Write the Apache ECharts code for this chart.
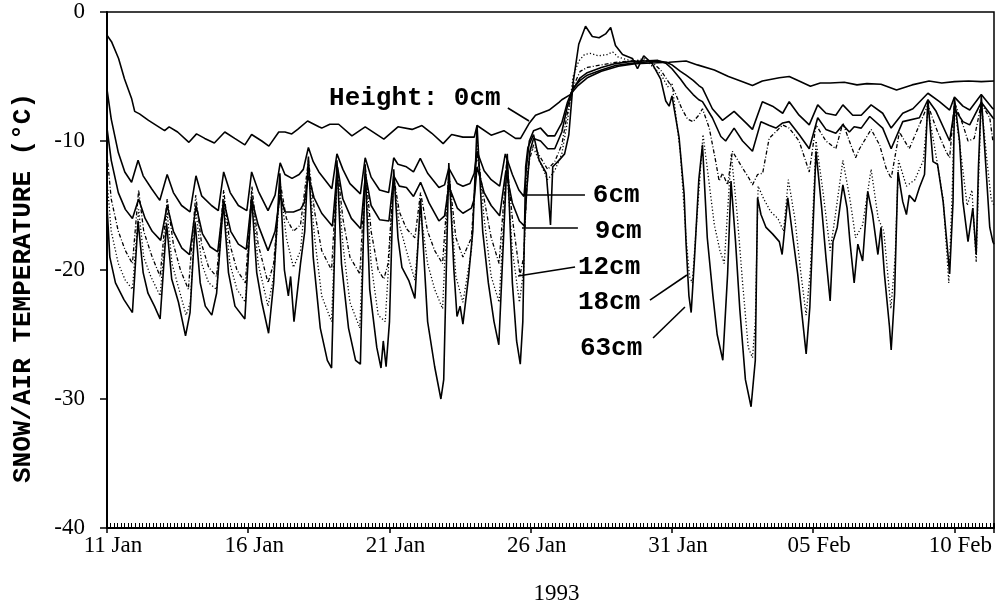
<!DOCTYPE html>
<html><head><meta charset="utf-8">
<script src="https://cdn.jsdelivr.net/npm/echarts@6/dist/echarts.min.js"></script>
<style>html,body{margin:0;padding:0;background:#fff}#c{width:1007px;height:612px}</style>
</head><body><div id="c"></div>
<script>
// x = days since 11 Jan 1993 00:00, y = temperature (°C)
const xTickLabels = ["11 Jan","16 Jan","21 Jan","26 Jan","31 Jan","05 Feb","10 Feb"];
const yearLabel = "1993";
const yTitle = "SNOW/AIR TEMPERATURE (°C)";

const h0 = [[0,-1.8],[0.16,-2.3],[0.41,-3.6],[0.62,-5.2],[0.87,-6.7],[0.98,-7.7],[1.15,-7.9],[1.47,-8.4],[1.83,-8.9],[2.04,-9.2],[2.2,-8.9],[2.5,-9.3],[2.9,-10.1],[3.17,-9.45],[3.46,-9.8],[3.8,-10.15],[4.17,-9.3],[4.52,-9.8],[4.88,-10.3],[5.12,-9.5],[5.48,-10.0],[5.73,-10.4],[6.08,-9.3],[6.3,-9.3],[6.54,-9.45],[6.75,-9.1],[7.1,-8.45],[7.5,-8.9],[7.6,-9.0],[7.89,-8.7],[8.2,-8.7],[8.67,-9.6],[9.14,-8.9],[9.8,-9.85],[10.3,-8.9],[10.8,-9.1],[11.15,-8.8],[11.5,-9.4],[11.9,-10.2],[12.2,-9.5],[12.6,-9.7],[13.0,-9.7],[13.1,-8.8],[13.6,-9.55],[14.05,-9.2],[14.46,-9.8],[14.64,-9.8],[14.94,-8.65],[15.17,-8.0],[15.65,-7.6],[16.0,-7.0],[16.1,-6.8],[16.4,-6.4],[16.65,-5.75],[17.0,-5.1],[17.5,-4.6],[18.1,-4.2],[18.7,-4.0],[19.3,-3.95],[19.9,-3.9],[20.5,-3.8],[20.9,-4.1],[21.5,-4.5],[22.0,-5.0],[22.5,-5.4],[22.85,-5.7],[23.2,-5.35],[23.8,-5.1],[24.15,-5.0],[24.5,-5.35],[24.9,-5.75],[25.25,-5.5],[25.6,-5.5],[26.1,-5.45],[26.55,-5.65],[26.9,-5.55],[27.4,-5.6],[27.95,-6.05],[28.5,-5.65],[29.1,-5.35],[29.55,-5.5],[30.0,-5.4],[30.5,-5.35],[30.95,-5.4],[31.4,-5.35]];

const h6 = [[0,-6.0],[0.15,-8.3],[0.4,-10.9],[0.63,-12.4],[0.87,-13.2],[1.1,-11.5],[1.28,-12.7],[1.58,-13.7],[1.87,-14.6],[2.13,-12.6],[2.35,-14.0],[2.64,-15.0],[2.94,-15.5],[3.15,-12.7],[3.35,-14.25],[3.7,-15.0],[3.94,-15.4],[4.13,-12.4],[4.36,-14.0],[4.65,-15.0],[4.95,-15.4],[5.12,-12.4],[5.36,-13.9],[5.7,-15.4],[5.95,-14.2],[6.13,-11.7],[6.3,-12.6],[6.55,-12.9],[6.8,-12.6],[6.95,-12.2],[7.13,-10.5],[7.3,-11.6],[7.5,-12.4],[7.96,-13.7],[8.14,-11.0],[8.35,-12.2],[8.6,-13.3],[8.97,-14.1],[9.14,-11.3],[9.35,-12.8],[9.65,-13.8],[9.97,-14.0],[10.15,-11.3],[10.3,-11.8],[10.6,-12.0],[10.85,-12.4],[11.09,-11.35],[11.35,-12.5],[11.75,-13.6],[11.95,-13.4],[12.1,-12.1],[12.4,-13.3],[12.6,-13.5],[12.85,-13.3],[13.0,-12.5],[13.1,-10.8],[13.35,-12.3],[13.6,-13.0],[13.9,-13.5],[14.1,-11.0],[14.35,-12.6],[14.58,-13.8],[14.76,-14.3],[14.85,-12.0],[14.95,-10.0],[15.1,-9.2],[15.35,-9.0],[15.6,-9.6],[15.85,-9.6],[16.1,-8.6],[16.3,-7.0],[16.5,-5.9],[16.75,-5.3],[17.0,-4.9],[17.5,-4.5],[18.0,-4.15],[18.5,-4.0],[19.0,-3.9],[19.5,-3.8],[19.8,-3.9],[20.0,-4.1],[20.3,-4.6],[20.5,-4.9],[20.75,-5.3],[20.95,-5.7],[21.08,-5.9],[21.43,-7.5],[21.79,-8.4],[22.2,-7.7],[22.62,-8.6],[22.85,-9.1],[23.2,-6.95],[23.56,-7.3],[23.92,-7.85],[24.15,-6.95],[24.5,-8.0],[24.86,-8.75],[25.16,-7.2],[25.45,-7.85],[25.8,-8.0],[26.05,-7.2],[26.4,-8.0],[26.7,-8.0],[27.05,-7.2],[27.46,-7.85],[27.76,-9.0],[28.17,-7.85],[28.53,-7.5],[29.06,-6.3],[29.47,-6.95],[29.83,-7.6],[30.0,-6.6],[30.3,-7.3],[30.54,-7.6],[30.95,-6.4],[31.36,-7.5],[31.4,-7.5]];

const h9 = [[0,-9.0],[0.15,-11.5],[0.4,-14.0],[0.65,-15.3],[0.9,-16.0],[1.12,-14.5],[1.35,-16.0],[1.6,-17.0],[1.9,-17.7],[2.13,-15.0],[2.35,-17.0],[2.65,-18.3],[2.92,-18.8],[3.15,-15.0],[3.38,-17.2],[3.65,-18.2],[3.92,-18.6],[4.13,-14.6],[4.38,-17.0],[4.65,-18.0],[4.93,-18.4],[5.12,-14.5],[5.35,-16.5],[5.7,-18.5],[5.95,-17.0],[6.13,-14.2],[6.3,-15.5],[6.6,-15.5],[6.85,-15.3],[6.98,-14.8],[7.13,-12.7],[7.33,-14.4],[7.6,-15.6],[7.98,-16.6],[8.16,-12.0],[8.35,-14.5],[8.65,-16.0],[8.98,-16.8],[9.15,-12.6],[9.35,-15.0],[9.65,-16.1],[9.98,-16.2],[10.15,-12.7],[10.35,-13.5],[10.6,-13.6],[10.85,-14.3],[11.1,-13.2],[11.4,-14.8],[11.75,-16.2],[11.95,-15.8],[12.1,-13.5],[12.4,-15.2],[12.6,-15.6],[12.9,-15.2],[13.0,-14.5],[13.1,-12.0],[13.35,-14.0],[13.6,-15.0],[13.9,-15.8],[14.12,-12.3],[14.35,-14.8],[14.6,-16.2],[14.78,-16.6],[14.87,-13.5],[14.97,-10.8],[15.1,-9.8],[15.35,-10.0],[15.6,-10.6],[15.85,-10.6],[16.1,-9.3],[16.3,-7.3],[16.5,-6.0],[16.75,-5.1],[17.0,-4.7],[17.5,-4.3],[18.0,-4.0],[18.5,-3.85],[19.0,-3.8],[19.5,-3.75],[19.8,-4.0],[20.0,-4.4],[20.3,-5.2],[20.5,-5.8],[20.75,-6.4],[20.95,-6.8],[21.08,-6.95],[21.43,-8.2],[21.73,-9.65],[21.9,-10.0],[22.2,-9.0],[22.5,-10.0],[22.85,-10.8],[23.15,-8.5],[23.45,-8.8],[23.68,-9.0],[23.92,-8.6],[24.15,-8.5],[24.5,-9.5],[24.86,-10.6],[25.16,-8.2],[25.45,-9.1],[25.8,-9.4],[26.05,-8.75],[26.28,-9.3],[26.45,-8.9],[26.7,-9.0],[27.0,-8.1],[27.46,-9.0],[27.76,-10.6],[28.17,-8.5],[28.76,-8.2],[29.06,-6.8],[29.35,-7.7],[29.83,-10.0],[30.0,-7.5],[30.3,-8.5],[30.54,-8.75],[30.95,-7.0],[31.36,-8.2],[31.4,-8.3]];

const h12 = [[0,-11.0],[0.15,-14.5],[0.4,-17.0],[0.65,-18.5],[0.9,-19.5],[1.12,-13.8],[1.3,-17.0],[1.6,-19.0],[1.88,-20.5],[2.13,-14.5],[2.35,-18.0],[2.6,-20.0],[2.88,-21.5],[3.14,-14.2],[3.35,-18.0],[3.6,-19.8],[3.88,-20.5],[4.13,-13.8],[4.35,-18.0],[4.6,-20.0],[4.9,-21.0],[5.13,-13.5],[5.35,-18.0],[5.7,-21.0],[5.9,-19.5],[6.13,-13.2],[6.35,-16.0],[6.6,-17.0],[6.85,-16.5],[7.13,-11.5],[7.35,-15.5],[7.6,-18.5],[7.95,-20.0],[8.15,-12.0],[8.35,-16.0],[8.6,-19.0],[8.95,-20.3],[9.15,-12.2],[9.35,-17.0],[9.6,-20.0],[9.8,-20.7],[9.95,-19.5],[10.15,-12.8],[10.35,-15.5],[10.6,-16.8],[10.9,-17.5],[11.1,-14.0],[11.35,-17.0],[11.6,-18.5],[11.88,-19.5],[12.1,-12.5],[12.35,-17.5],[12.6,-19.0],[12.9,-17.5],[13.1,-11.0],[13.35,-14.5],[13.6,-17.5],[13.88,-19.5],[14.15,-11.5],[14.35,-16.0],[14.62,-20.4],[14.75,-19.0],[14.85,-14.0],[14.95,-11.5],[15.1,-10.3],[15.35,-11.3],[15.6,-12.2],[15.85,-11.6],[16.1,-10.3],[16.3,-7.8],[16.5,-5.8],[16.75,-4.6],[17.0,-4.3],[17.5,-4.1],[18.0,-3.9],[18.5,-3.8],[19.0,-3.75],[19.3,-3.9],[19.6,-4.5],[19.9,-5.5],[20.1,-6.2],[20.35,-7.5],[20.55,-8.3],[20.75,-8.5],[20.95,-8.0],[21.08,-7.5],[21.32,-9.0],[21.55,-11.6],[21.67,-13.1],[21.79,-12.5],[21.97,-13.4],[22.14,-10.8],[22.5,-12.1],[22.73,-12.9],[22.85,-13.4],[23.03,-12.6],[23.21,-12.5],[23.44,-9.8],[23.92,-8.75],[24.15,-9.0],[24.5,-10.0],[24.86,-12.4],[25.1,-8.75],[25.45,-10.0],[25.8,-10.6],[26.05,-8.6],[26.28,-10.0],[26.5,-11.3],[26.64,-10.6],[27.05,-9.1],[27.35,-10.3],[27.58,-12.1],[27.76,-12.9],[28.05,-9.3],[28.4,-10.6],[28.76,-8.75],[29.06,-7.2],[29.35,-9.0],[29.7,-10.8],[29.83,-11.3],[30.0,-7.0],[30.3,-8.75],[30.48,-10.0],[30.7,-9.8],[30.95,-7.1],[31.25,-8.2],[31.36,-10.0],[31.4,-10.0]];

const h18 = [[0,-13.0],[0.15,-17.0],[0.4,-19.5],[0.65,-20.8],[0.9,-21.5],[1.12,-15.3],[1.3,-19.0],[1.55,-20.5],[1.88,-22.0],[2.13,-15.5],[2.3,-19.5],[2.55,-21.5],[2.8,-23.5],[2.95,-22.5],[3.14,-15.2],[3.35,-19.5],[3.6,-21.0],[3.88,-21.5],[4.13,-14.5],[4.35,-19.5],[4.6,-21.5],[4.9,-22.5],[5.13,-14.0],[5.35,-19.5],[5.7,-22.8],[5.9,-20.5],[6.13,-13.5],[6.35,-17.5],[6.6,-19.8],[6.85,-18.5],[7.13,-12.0],[7.35,-17.5],[7.6,-22.0],[7.95,-24.0],[8.15,-12.5],[8.35,-18.0],[8.6,-22.5],[8.95,-24.5],[9.15,-12.5],[9.35,-19.5],[9.6,-23.5],[9.85,-24.0],[10.15,-13.0],[10.35,-16.5],[10.6,-18.5],[10.9,-20.8],[11.1,-15.5],[11.35,-19.5],[11.6,-21.5],[11.88,-23.0],[12.1,-12.5],[12.35,-20.5],[12.6,-22.5],[12.9,-18.5],[13.1,-10.0],[13.35,-16.0],[13.6,-20.5],[13.88,-22.5],[14.15,-12.0],[14.35,-18.5],[14.6,-22.5],[14.75,-20.0],[14.85,-13.0],[15.0,-10.5],[15.15,-10.8],[15.4,-12.0],[15.6,-13.0],[15.85,-12.3],[16.1,-11.0],[16.3,-8.5],[16.5,-5.0],[16.7,-3.8],[16.9,-3.3],[17.1,-3.2],[17.4,-3.4],[17.7,-3.3],[17.9,-3.1],[18.1,-3.5],[18.4,-3.7],[18.7,-3.8],[19.0,-3.6],[19.3,-4.2],[19.6,-4.8],[19.85,-5.8],[20.0,-5.5],[20.3,-11.0],[20.5,-17.5],[20.62,-20.5],[20.72,-21.0],[20.85,-17.0],[21.1,-9.5],[21.3,-13.0],[21.5,-16.5],[21.7,-18.5],[21.85,-19.5],[22.1,-11.0],[22.3,-15.5],[22.5,-21.0],[22.7,-26.0],[22.85,-26.8],[22.95,-24.0],[23.05,-13.5],[23.25,-14.5],[23.5,-15.5],[23.75,-16.0],[23.95,-17.0],[24.12,-13.0],[24.35,-16.0],[24.55,-20.0],[24.75,-23.5],[24.9,-20.0],[25.1,-10.0],[25.35,-14.0],[25.6,-18.5],[25.8,-15.5],[26.05,-11.5],[26.3,-14.5],[26.5,-17.5],[26.75,-16.5],[27.05,-12.2],[27.3,-16.0],[27.5,-17.0],[27.75,-23.0],[27.9,-19.0],[28.02,-11.5],[28.3,-13.5],[28.6,-13.0],[28.9,-11.5],[29.06,-7.5],[29.3,-10.5],[29.6,-14.5],[29.8,-21.0],[29.92,-14.0],[30.0,-7.3],[30.2,-10.5],[30.45,-15.0],[30.62,-13.8],[30.77,-19.4],[30.87,-12.0],[30.95,-7.0],[31.15,-11.5],[31.3,-14.5],[31.4,-15.0]];

const h63 = [[0,-15.0],[0.1,-19.0],[0.3,-21.0],[0.6,-22.3],[0.9,-23.3],[1.1,-16.2],[1.28,-20.2],[1.45,-21.8],[1.68,-22.8],[1.88,-23.8],[2.11,-16.4],[2.29,-20.7],[2.53,-22.5],[2.78,-25.1],[2.94,-23.3],[3.12,-16.3],[3.3,-21.0],[3.48,-22.8],[3.71,-23.5],[3.88,-21.8],[4.12,-14.8],[4.3,-20.2],[4.53,-22.8],[4.88,-23.8],[5.12,-14.3],[5.3,-20.2],[5.48,-22.5],[5.72,-24.9],[5.9,-21.0],[6.12,-12.5],[6.28,-20.0],[6.42,-22.0],[6.5,-20.5],[6.62,-24.0],[6.85,-19.5],[7.0,-17.0],[7.13,-11.2],[7.3,-19.0],[7.55,-24.5],[7.8,-27.0],[7.95,-27.6],[8.14,-11.5],[8.3,-19.5],[8.55,-24.5],[8.8,-27.0],[8.97,-27.3],[9.14,-11.8],[9.3,-21.5],[9.55,-26.0],[9.7,-27.6],[9.78,-25.5],[9.88,-27.5],[10.0,-24.0],[10.15,-12.2],[10.3,-17.5],[10.44,-19.8],[10.68,-20.8],[10.9,-22.2],[11.1,-14.5],[11.35,-24.0],[11.6,-27.5],[11.82,-30.0],[11.92,-28.5],[12.1,-11.7],[12.28,-20.0],[12.39,-23.6],[12.5,-22.8],[12.6,-24.2],[12.8,-20.5],[12.95,-17.0],[13.1,-8.8],[13.3,-17.0],[13.5,-21.0],[13.7,-24.0],[13.87,-25.8],[14.17,-11.0],[14.35,-21.0],[14.5,-25.5],[14.63,-27.3],[14.72,-24.0],[14.82,-12.0],[14.9,-10.5],[15.1,-9.5],[15.3,-11.5],[15.55,-12.5],[15.7,-16.5],[15.78,-12.0],[16.0,-11.5],[16.2,-11.0],[16.35,-9.5],[16.5,-5.5],[16.7,-2.5],[16.94,-1.1],[17.18,-1.9],[17.42,-2.0],[17.65,-1.7],[17.83,-1.2],[18.0,-2.6],[18.25,-3.3],[18.6,-3.6],[18.78,-4.4],[19.0,-3.4],[19.3,-4.0],[19.6,-5.2],[19.78,-6.9],[19.9,-7.3],[20.0,-6.5],[20.25,-9.7],[20.43,-14.1],[20.5,-18.0],[20.6,-22.0],[20.68,-23.3],[20.8,-19.0],[20.95,-13.0],[21.08,-10.3],[21.25,-17.5],[21.45,-22.0],[21.6,-25.0],[21.8,-27.0],[21.97,-20.3],[22.09,-13.1],[22.25,-17.8],[22.4,-23.0],[22.6,-28.5],[22.8,-30.6],[22.95,-27.0],[23.03,-14.4],[23.15,-15.7],[23.33,-16.7],[23.56,-17.2],[23.8,-17.8],[23.9,-18.8],[24.1,-14.4],[24.3,-17.8],[24.45,-20.3],[24.6,-23.4],[24.75,-26.5],[24.88,-22.9],[25.1,-10.8],[25.3,-15.2],[25.45,-19.0],[25.6,-22.4],[25.7,-17.8],[25.85,-16.7],[26.05,-13.4],[26.2,-15.2],[26.3,-17.8],[26.45,-21.0],[26.58,-18.0],[26.75,-19.3],[26.93,-13.9],[27.1,-15.7],[27.29,-18.8],[27.4,-16.7],[27.52,-20.3],[27.7,-24.4],[27.76,-26.2],[27.88,-21.9],[28.0,-12.4],[28.17,-14.7],[28.3,-15.7],[28.4,-14.2],[28.6,-14.7],[28.76,-13.6],[28.94,-12.6],[29.06,-6.8],[29.24,-11.6],[29.4,-11.8],[29.6,-14.7],[29.77,-18.8],[29.83,-20.3],[29.95,-14.7],[30.0,-6.7],[30.18,-10.0],[30.3,-14.7],[30.48,-17.8],[30.65,-15.2],[30.77,-18.8],[30.85,-12.0],[30.95,-6.5],[31.13,-12.6],[31.25,-16.7],[31.36,-17.8],[31.4,-18.0]];

const seriesNames = ["0cm","6cm","9cm","12cm","18cm","63cm"];
const seriesData = [h0, h6, h9, h12, h18, h63];

// annotation anchors in data coordinates [day, °C]
const labelTexts = ["Height: 0cm","6cm","9cm","12cm","18cm","63cm"];
const labelAnchors = [[7.86,-6.67],[17.2,-14.19],[17.27,-16.98],[16.67,-19.77],[16.67,-22.48],[16.74,-26.05]];
const leaderLines = [
  [[14.19,-7.44],[14.94,-8.45]],
  [[14.73,-14.19],[16.92,-14.19]],
  [[14.69,-16.74],[16.67,-16.74]],
  [[14.55,-20.47],[16.57,-19.77]],
  [[19.22,-22.33],[20.53,-20.39]],
  [[19.33,-25.27],[20.46,-22.87]]
];

const serif = "'Liberation Serif','Times New Roman',serif";
const styleFor = {
  "0cm": {type:'solid', width:1.6},
  "6cm": {type:'solid', width:1.6},
  "9cm": {type:'solid', width:1.6},
  "12cm": {type:[4,2,1,2], width:1.3},
  "18cm": {type:[1.2,2.2], width:1.3},
  "63cm": {type:'solid', width:1.6}
};

const chart = echarts.init(document.getElementById('c'), null, {renderer:'canvas'});
chart.setOption({
  animation: false,
  backgroundColor: '#fff',
  grid: {left:107, right:13, top:12, bottom:84, show:true, borderColor:'#000', borderWidth:1.5, backgroundColor:'transparent'},
  xAxis: [{
    type:'value', min:0, max:31.4, interval:5,
    axisLine:{show:true, onZero:false, lineStyle:{color:'#000', width:2}},
    axisTick:{show:true, length:5, lineStyle:{color:'#000', width:1.5}},
    axisLabel:{color:'#000', fontFamily:serif, fontSize:23, margin:6, padding:[0,0,0,12],
      formatter: v => (Math.abs(v/5 - Math.round(v/5)) < 1e-6 ? (xTickLabels[Math.round(v/5)] || '') : '')},
    splitLine:{show:false},
    name: yearLabel, nameLocation:'middle', nameGap:54,
    nameTextStyle:{color:'#000', fontFamily:serif, fontSize:23, padding:[0,0,0,12]}
  },{
    type:'value', min:0, max:31.4, interval:0.125, position:'bottom', offset:0,
    axisLine:{show:false, onZero:false}, axisLabel:{show:false}, splitLine:{show:false},
    axisTick:{show:true, inside:true, length:5, lineStyle:{color:'#000', width:1}}
  }],
  yAxis: {
    type:'value', min:-40, max:0, interval:10,
    axisLine:{show:true, onZero:false, lineStyle:{color:'#000', width:2}},
    axisTick:{show:true, length:7, lineStyle:{color:'#000', width:1.5}},
    axisLabel:{color:'#000', fontFamily:serif, fontSize:23, margin:22},
    splitLine:{show:false}
  },
  series: seriesNames.map((n,i) => ({
    name:n, type:'line', data:seriesData[i], xAxisIndex:0, yAxisIndex:0,
    showSymbol:false, symbol:'none', silent:true,
    lineStyle:{color:'#000', type:styleFor[n].type, width:styleFor[n].width}
  }))
});

const toPx = p => chart.convertToPixel({xAxisIndex:0, yAxisIndex:0}, p);
const graphics = [];
labelTexts.forEach((t,i) => {
  const p = toPx(labelAnchors[i]);
  graphics.push({type:'text', x:p[0], y:p[1], style:{text:t, fill:'#000', font:"bold 26px 'Liberation Mono','Courier New',monospace", textAlign:'left', textVerticalAlign:'middle'}});
});
leaderLines.forEach(l => {
  const a = toPx(l[0]), b = toPx(l[1]);
  graphics.push({type:'line', shape:{x1:a[0], y1:a[1], x2:b[0], y2:b[1]}, style:{stroke:'#000', lineWidth:1.6}});
});
graphics.push({type:'text', x:23, y:288, rotation:Math.PI/2,
  style:{text:yTitle, fill:'#000', font:"bold 26px 'Liberation Mono','Courier New',monospace", textAlign:'center', textVerticalAlign:'middle'}});
chart.setOption({graphic: graphics});
</script>
</body></html>
